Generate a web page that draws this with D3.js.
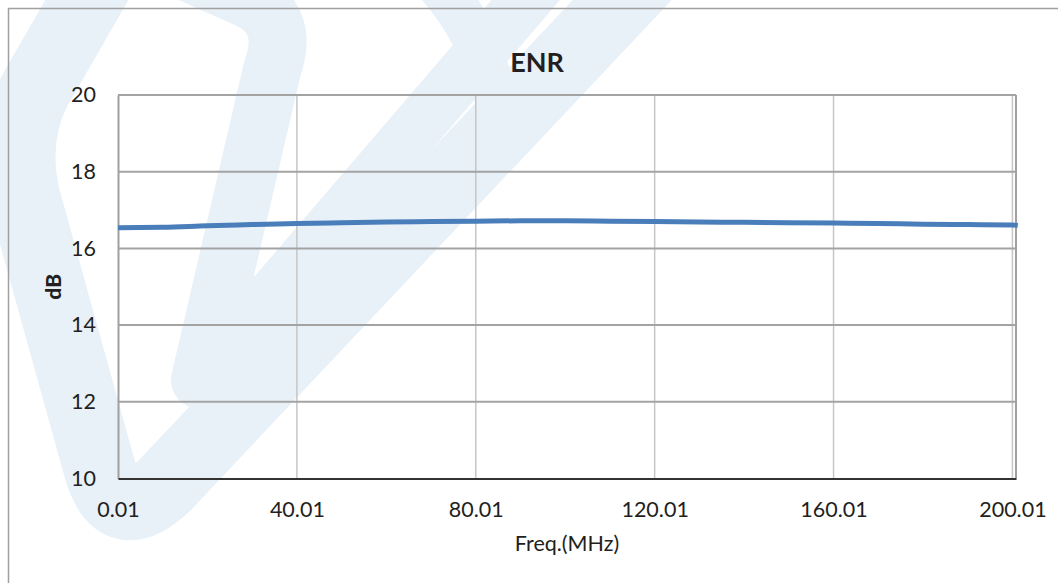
<!DOCTYPE html>
<html>
<head>
<meta charset="utf-8">
<script src="https://cdn.jsdelivr.net/npm/d3@7"></script>
<style>
  html, body { margin: 0; padding: 0; background: #fff; overflow: hidden; }
  text { font-family: Lato, "Open Sans", sans-serif; fill: #231f20; }
</style>
</head>
<body>
<svg id="chart" width="1058" height="583"></svg>
<script>
// values
const freqs = [0.01, 10.01, 20.01, 30.01, 40.01, 50.01, 60.01, 70.01, 80.01, 90.01, 100.01,
  110.01, 120.01, 130.01, 140.01, 150.01, 160.01, 170.01, 180.01, 190.01, 200.01, 201.21];
const enr = [16.54, 16.55, 16.59, 16.62, 16.65, 16.67, 16.69, 16.70, 16.71, 16.72, 16.72,
  16.71, 16.70, 16.69, 16.68, 16.67, 16.66, 16.65, 16.63, 16.62, 16.61, 16.60];
const xTicks = [0.01, 40.01, 80.01, 120.01, 160.01, 200.01];
const yTicks = [10, 12, 14, 16, 18, 20];

const svg = d3.select("svg#chart");
const margin = {left: 118, top: 95, right: 1016, bottom: 478.5};

// faint logo watermark behind everything
const wm = svg.append("g").attr("id", "watermark")
  .attr("fill", "none").attr("stroke", "#e8f0f8")
  .attr("stroke-linecap", "round").attr("stroke-linejoin", "round");
wm.append("path").attr("stroke-width", 72)
  .attr("d", "M110,-40 L35,90 Q10,140 25,200 L100,470 Q118,530 165,485 L660,-40");
wm.append("path").attr("stroke-width", 58)
  .attr("d", "M160,-40 L250,0 Q290,20 272,70 L200,380");
wm.append("path").attr("stroke-width", 52)
  .attr("d", "M200,380 L560,-40");
wm.append("path").attr("stroke-width", 45)
  .attr("d", "M415,-40 Q478,20 490,85");

// chart area border (runs off the right and bottom edges)
svg.append("rect")
  .attr("x", 8.5).attr("y", 8.5).attr("width", 1100).attr("height", 620)
  .attr("fill", "none").attr("stroke", "#a0a0a0").attr("stroke-width", 1.5);

const x = d3.scaleLinear().domain([0.01, 200.81]).range([margin.left, margin.right]);
const y = d3.scaleLinear().domain([10, 20]).range([margin.bottom, margin.top]);

// grid
svg.append("g").selectAll("line.vgrid")
  .data(xTicks.slice(1))
  .enter().append("line")
  .attr("class", "vgrid")
  .attr("x1", d => x(d)).attr("x2", d => x(d))
  .attr("y1", margin.top).attr("y2", margin.bottom)
  .attr("stroke", "#c6c6c6").attr("stroke-width", 1.5);

svg.append("g").selectAll("line.hgrid")
  .data(yTicks.slice(1))
  .enter().append("line")
  .attr("class", "hgrid")
  .attr("x1", margin.left).attr("x2", margin.right)
  .attr("y1", d => y(d)).attr("y2", d => y(d))
  .attr("stroke", "#a3a3a3").attr("stroke-width", 2);

// right edge of the plot
svg.append("line")
  .attr("x1", margin.right).attr("x2", margin.right)
  .attr("y1", margin.top).attr("y2", margin.bottom)
  .attr("stroke", "#a0a0a0").attr("stroke-width", 2);

// axes
const yAxis = svg.append("g")
  .attr("transform", "translate(" + margin.left + ",0)")
  .call(d3.axisLeft(y).tickValues(yTicks).tickSize(0).tickPadding(22).tickFormat(d3.format("d")));
yAxis.select(".domain").attr("stroke", "#a0a0a0").attr("stroke-width", 2);
yAxis.selectAll("text").attr("font-size", 21.5).attr("fill", "#231f20")
  .style("font-family", "Lato, sans-serif");

const xAxis = svg.append("g")
  .attr("transform", "translate(0," + margin.bottom + ")")
  .call(d3.axisBottom(x).tickValues(xTicks).tickSize(0).tickPadding(23).tickFormat(d3.format(".2f")));
xAxis.select(".domain").attr("stroke", "#333").attr("stroke-width", 2.2);
xAxis.selectAll("text").attr("font-size", 21.5).attr("fill", "#231f20")
  .style("font-family", "Lato, sans-serif");

// series
const line = d3.line()
  .x((d, i) => x(freqs[i]))
  .y(d => y(d))
  .curve(d3.curveMonotoneX);

svg.append("path")
  .datum(enr)
  .attr("d", line)
  .attr("fill", "none")
  .attr("stroke", "#4a7ebb")
  .attr("stroke-width", 5);

// titles
svg.append("text")
  .attr("x", 537).attr("y", 72)
  .attr("text-anchor", "middle")
  .attr("font-size", 27).attr("font-weight", "bold")
  .text("ENR");

svg.append("text")
  .attr("x", (margin.left + margin.right) / 2).attr("y", 551)
  .attr("text-anchor", "middle")
  .attr("font-size", 21.5)
  .text("Freq.(MHz)");

svg.append("text")
  .attr("transform", "translate(61," + (margin.top + margin.bottom) / 2 + ") rotate(-90)")
  .attr("text-anchor", "middle")
  .attr("font-size", 21).attr("font-weight", "900")
  .text("dB");
</script>
</body>
</html>
